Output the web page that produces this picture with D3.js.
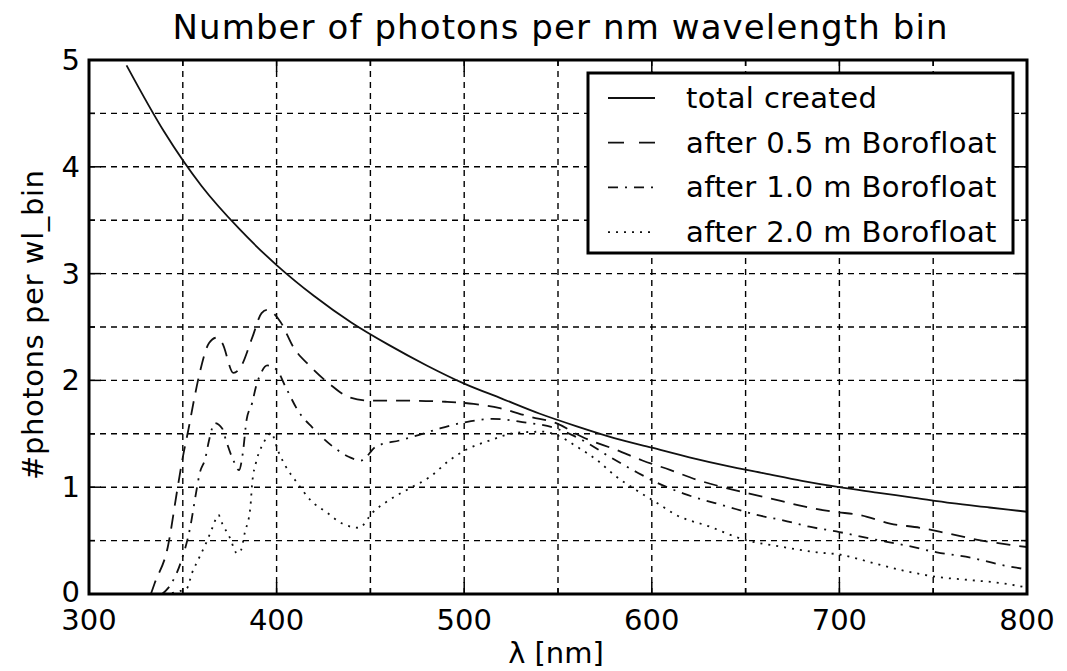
<!DOCTYPE html>
<html>
<head>
<meta charset="utf-8">
<script src="https://cdn.jsdelivr.net/npm/d3@7"></script>
<style>
  body { margin: 0; background: #fff; }
  svg { font-family: "DejaVu Sans", sans-serif; }
</style>
</head>
<body>
<svg id="chart" width="1067" height="671"></svg>
<script>
// values
let wlTotal = [320, 340, 360, 380, 400, 420, 440, 460, 480, 500, 520, 540, 560, 580, 600, 620, 640, 660, 680, 700, 720, 740, 760, 780, 800]
let totalCreated = [4.95, 4.33, 3.82, 3.42, 3.08, 2.79, 2.54, 2.33, 2.14, 1.97, 1.83, 1.69, 1.57, 1.46, 1.37, 1.28, 1.20, 1.13, 1.06, 1.00, 0.95, 0.90, 0.85, 0.81, 0.77]

let wl05 = [333, 335, 342, 347, 350, 353, 356, 359, 364, 368, 371, 377, 381, 387, 392, 395, 402, 409, 418, 428, 439, 450, 470, 490, 505, 519, 535, 549, 563, 581, 595, 610, 624, 638, 652, 667, 681, 697, 711, 727, 743, 757, 773, 791, 800]
let after05 = [0.0, 0.1, 0.44, 0.97, 1.28, 1.54, 1.82, 2.07, 2.35, 2.4, 2.35, 2.07, 2.13, 2.4, 2.63, 2.66, 2.55, 2.31, 2.13, 1.97, 1.84, 1.81, 1.81, 1.80, 1.78, 1.74, 1.66, 1.60, 1.47, 1.35, 1.25, 1.16, 1.07, 1.0, 0.94, 0.88, 0.82, 0.77, 0.74, 0.66, 0.62, 0.57, 0.51, 0.46, 0.44]

let wl10 = [339, 344, 349, 354, 357, 359, 362, 364, 367, 371, 373, 377, 380, 382, 384, 387, 389, 392, 395, 400, 405, 412, 419, 430, 439, 445, 453, 466, 476, 487, 501, 515, 531, 549, 563, 578, 592, 603, 617, 640, 656, 670, 684, 700, 716, 734, 752, 770, 787, 800]
let after10 = [0.0, 0.1, 0.3, 0.63, 0.94, 1.13, 1.27, 1.44, 1.6, 1.55, 1.44, 1.25, 1.16, 1.32, 1.63, 1.79, 1.94, 2.08, 2.14, 2.1, 1.93, 1.7, 1.56, 1.38, 1.28, 1.25, 1.38, 1.44, 1.49, 1.55, 1.61, 1.64, 1.61, 1.55, 1.44, 1.28, 1.14, 1.04, 0.94, 0.82, 0.74, 0.69, 0.63, 0.58, 0.52, 0.46, 0.39, 0.34, 0.27, 0.23]

let wl20 = [340, 352, 355, 359, 363, 366, 369, 371, 375, 379, 381, 383, 386, 387, 389, 392, 395, 397, 401, 405, 411, 418, 427, 435, 444, 451, 460, 471, 482, 492, 501, 514, 528, 542, 549, 560, 571, 581, 592, 603, 613, 631, 649, 670, 688, 700, 716, 734, 752, 770, 787, 800]
let after20 = [0.0, 0.05, 0.2, 0.35, 0.5, 0.63, 0.74, 0.66, 0.53, 0.38, 0.41, 0.57, 0.81, 1.04, 1.23, 1.38, 1.47, 1.51, 1.33, 1.19, 1.04, 0.88, 0.76, 0.66, 0.62, 0.76, 0.88, 0.99, 1.1, 1.25, 1.35, 1.44, 1.51, 1.52, 1.49, 1.38, 1.25, 1.10, 0.97, 0.85, 0.74, 0.63, 0.51, 0.44, 0.39, 0.37, 0.30, 0.22, 0.16, 0.13, 0.10, 0.06]

let xTicks = [300, 400, 500, 600, 700, 800]
let xMinor = [350, 450, 550, 650, 750]
let yTicks = [0, 1, 2, 3, 4, 5]
let yMinor = [0.5, 1.5, 2.5, 3.5, 4.5]

let series = [
    { name: "total created", wl: wlTotal, v: totalCreated, dash: null },
    { name: "after 0.5 m Borofloat", wl: wl05, v: after05, dash: "14,9" },
    { name: "after 1.0 m Borofloat", wl: wl10, v: after10, dash: "10,7,2,7" },
    { name: "after 2.0 m Borofloat", wl: wl20, v: after20, dash: "2,6" }
]

let pLeft = 89, pRight = 1027, pTop = 60, pBottom = 594

let x = d3.scaleLinear().domain([300, 800]).range([pLeft, pRight])
let y = d3.scaleLinear().domain([0, 5]).range([pBottom, pTop])

let svg = d3.select("#chart")

// grid at major and minor positions
let grid = svg.append("g").attr("class", "grid")
    .attr("stroke", "#000").attr("stroke-width", 1.4).attr("stroke-dasharray", "6,5")
grid.selectAll(".gx").data(xTicks.concat(xMinor).filter(d => d > 300 && d < 800))
    .enter().append("line")
    .attr("x1", d => x(d)).attr("x2", d => x(d))
    .attr("y1", pTop).attr("y2", pBottom)
grid.selectAll(".gy").data(yTicks.concat(yMinor).filter(d => d > 0 && d < 5))
    .enter().append("line")
    .attr("y1", d => y(d)).attr("y2", d => y(d))
    .attr("x1", pLeft).attr("x2", pRight)

// curves
let plot = svg.append("g")
series.forEach(s => {
    let pts = s.wl.map((w, i) => [w, s.v[i]])
    let line = d3.line()
        .x(d => x(d[0]))
        .y(d => y(d[1]))
        .curve(d3.curveMonotoneX)
    plot.append("path")
        .datum(pts)
        .attr("fill", "none")
        .attr("stroke", "#111")
        .attr("stroke-width", 1.8)
        .attr("stroke-dasharray", s.dash)
        .attr("d", line)
})

// inward ticks on all four sides
let ticks = svg.append("g").attr("stroke", "#000").attr("stroke-width", 1.5)
function tickSet(vals, len) {
    vals.forEach(v => {
        ticks.append("line").attr("x1", x(v)).attr("x2", x(v)).attr("y1", pBottom).attr("y2", pBottom - len)
        ticks.append("line").attr("x1", x(v)).attr("x2", x(v)).attr("y1", pTop).attr("y2", pTop + len)
    })
}
function tickSetY(vals, len) {
    vals.forEach(v => {
        ticks.append("line").attr("y1", y(v)).attr("y2", y(v)).attr("x1", pLeft).attr("x2", pLeft + len)
        ticks.append("line").attr("y1", y(v)).attr("y2", y(v)).attr("x1", pRight).attr("x2", pRight - len)
    })
}
tickSet(xTicks, 12)
tickSet(xMinor, 6)
tickSetY(yTicks, 12)
tickSetY(yMinor, 6)

// frame
svg.append("rect")
    .attr("x", pLeft).attr("y", pTop)
    .attr("width", pRight - pLeft).attr("height", pBottom - pTop)
    .attr("fill", "none").attr("stroke", "#000").attr("stroke-width", 3)

// tick labels
svg.append("g").selectAll("text").data(xTicks).enter().append("text")
    .attr("x", d => x(d)).attr("y", 630)
    .attr("text-anchor", "middle")
    .style("font-size", "29px")
    .text(d => d)

svg.append("g").selectAll("text").data(yTicks).enter().append("text")
    .attr("x", 80).attr("y", d => y(d) + (d == 0 ? 8 : 10))
    .attr("text-anchor", "end")
    .style("font-size", "29px")
    .text(d => d)

// titles
svg.append("text")
    .attr("x", 560).attr("y", 39)
    .attr("text-anchor", "middle")
    .style("font-size", "34px")
    .attr("textLength", 775)
    .attr("lengthAdjust", "spacing")
    .text("Number of photons per nm wavelength bin")

svg.append("text")
    .attr("x", 556).attr("y", 663)
    .attr("text-anchor", "middle")
    .style("font-size", "29px")
    .text("λ [nm]")

svg.append("text")
    .attr("transform", "translate(43,325) rotate(-90)")
    .attr("text-anchor", "middle")
    .style("font-size", "29px")
    .attr("textLength", 310)
    .attr("lengthAdjust", "spacing")
    .text("#photons per wl_bin")

// legend
let legend = svg.append("g")
legend.append("rect")
    .attr("x", 588).attr("y", 73).attr("width", 425).attr("height", 180)
    .attr("fill", "#fff").attr("stroke", "#000").attr("stroke-width", 3)

let rows = legend.selectAll(".row").data(series).enter().append("g")
    .attr("transform", (d, i) => "translate(0," + (98 + i * 44.7) + ")")
rows.append("line")
    .attr("x1", 608).attr("x2", 655).attr("y1", 0).attr("y2", 0)
    .attr("stroke", "#111").attr("stroke-width", 1.8)
    .attr("stroke-dasharray", d => d.name.indexOf("0.5") > 0 ? "16,15" : d.dash)
rows.append("text")
    .attr("x", 686).attr("y", 10)
    .style("font-size", "29px")
    .style("letter-spacing", "0.4px")
    .text(d => d.name)
</script>
</body>
</html>
